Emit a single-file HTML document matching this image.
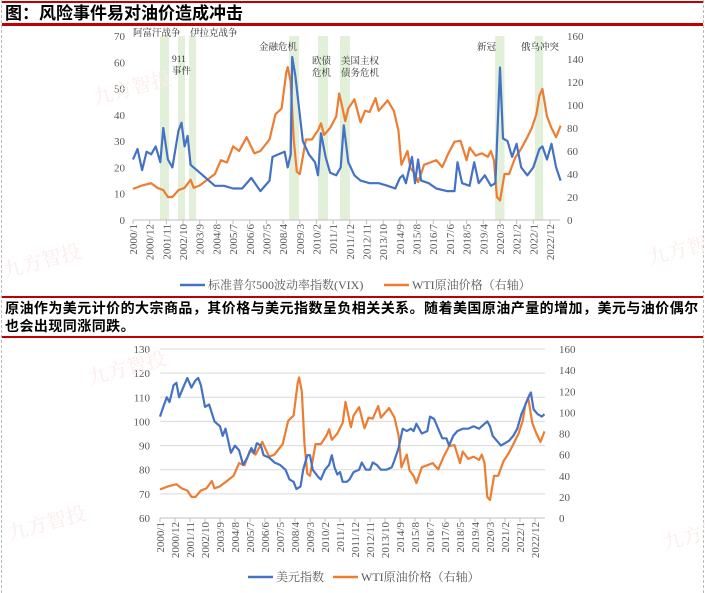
<!DOCTYPE html>
<html><head><meta charset="utf-8">
<style>
body{margin:0;background:#fff;}
#wrap{position:relative;width:705px;height:593px;overflow:hidden;font-family:"Liberation Serif","Noto Serif CJK SC",serif;}
.hd{position:absolute;left:5px;font-family:"Liberation Sans","Noto Sans CJK SC",sans-serif;font-weight:bold;color:#000;}
.rl{position:absolute;left:2px;right:2px;background:#c00000;}
</style></head>
<body>
<div id="wrap">
<div style="position:absolute;left:1px;top:0;bottom:0;border-left:1px dashed #bbb"></div>
<div style="position:absolute;right:1px;top:0;bottom:0;border-right:1px dashed #bbb"></div>
<div class="rl" style="top:1px;height:2px"></div>
<div class="hd" style="top:4px;font-size:17px;line-height:20px">图：风险事件易对油价造成冲击</div>
<div class="rl" style="top:23px;height:3px"></div>
<div class="rl" style="top:296px;height:2px"></div>
<div class="hd" style="top:299px;font-size:14px;line-height:18px;width:700px;letter-spacing:0.45px;white-space:nowrap">原油作为美元计价的大宗商品，其价格与美元指数呈负相关关系。随着美国原油产量的增加，美元与油价偶尔<br>也会出现同涨同跌。</div>
<div class="rl" style="top:336px;height:2px"></div>
<svg id="svg" width="705" height="593" style="position:absolute;left:0;top:0"></svg>
</div>
<script>
const tickLabels=[];for(let k=0;k<=25;k++){const m=11*k;tickLabels.push((2000+Math.floor(m/12))+'/'+(m%12+1));}
const vixMonths=[0,3,6,9,12,15,18,20,23,26,30,32,34,36,38,42,48,54,60,66,72,78,84,90,92,96,100,102,104,105,107,109,112,116,120,122,124,127,130,134,137,139,142,146,150,156,162,168,173,176,178,180,184,186,188,190,195,200,207,212,214,217,222,225,228,232,236,239,242,244,247,250,253,256,260,264,268,270,273,276,279,282];
const vixValues=[23,27,19,26,25,28,22,35,23,20,34,37,28,32,21,19,16,13,13,12,12,16,11,15,24,25,26,20,25,62,55,45,30,25,22,17,33,24,18,17,20,36,22,17,15,14,14,13,12,16,17,14,24,14,23,15,14,12,11,11,22,14,13,22,14,17,13,14,58,31,30,24,29,20,17,20,27,28,23,29,20,15];
const wtiMonths=[0,6,12,16,20,23,26,30,34,38,40,44,48,54,58,62,66,70,75,80,84,90,94,98,101,102,104,106,108,110,114,118,122,124,126,130,134,136,138,140,142,146,150,153,156,160,162,164,168,172,175,177,181,183,186,188,192,196,200,204,208,212,216,220,222,226,230,234,236,238,240,242,245,248,252,256,260,263,266,268,270,273,276,279,282];
const wtiValues=[27,30,32,28,26,20,20,26,28,35,28,30,34,40,52,50,64,60,72,58,60,70,92,97,128,133,120,70,42,40,70,70,78,84,74,80,90,110,98,86,97,105,85,95,94,106,95,98,104,95,78,48,60,45,40,33,48,50,52,46,58,68,69,52,63,56,58,55,60,52,20,17,40,40,54,62,72,80,92,108,114,90,80,72,82];
const dxyMonths=[0,3,5,7,10,12,14,17,20,23,26,28,30,33,36,40,44,46,48,50,52,55,58,61,64,67,69,71,74,76,80,84,88,92,95,98,100,103,105,108,110,112,116,118,121,124,126,128,130,132,134,137,139,142,146,148,151,154,156,159,162,166,170,172,175,178,181,184,186,188,192,196,198,201,204,207,210,212,215,218,222,226,230,234,238,240,242,244,247,250,253,256,259,262,265,268,271,272,274,277,280,282];
const dxyValues=[102,107,110,108,115,116,110,114,118,114,117,118,115,106,107,100,98,94,97,92,87,90,88,82,85,89,87,91,90,86,85,83,82,80,76,75,72,73,80,86,86,80,77,76,80,82,86,81,78,79,75,75,76,79,80,83,80,80,83,82,80,80,81,84,89,97,96,97,96,99,95,96,102,101,97,93,93,90,94,96,97,97,98,97,99,100,98,94,92,90,91,92,94,97,103,107,111,112,105,103,102,103];
const bandStarts=[17.8,29.7,36.9,103,122,136.5,238.8,265];
const bandEnds=[23.7,34.3,41.6,109.5,128.6,143,245,270.5];
const leftTicks1=[0,10,20,30,40,50,60,70];
const rightTicks=[0,20,40,60,80,100,120,140,160];
const leftTicks2=[60,70,80,90,100,110,120,130];
const eventLabels=[['阿富汗战争',133,36],['伊拉克战争',190,36],['911',172,62],['事件',172,74],['金融危机',259,50],['欧债',312,64],['危机',312,76],['美国主权',341,64],['债务危机',341,76],['新冠',477,50],['俄乌冲突',521,50]];

const NS='http://www.w3.org/2000/svg';const svg=document.getElementById('svg');
function mk(t,a,p){const e=document.createElementNS(NS,t);for(const k in a)e.setAttribute(k,a[k]);(p||svg).appendChild(e);return e;}
function txt(s,x,y,anchor,size,name,extra){const e=mk('text',Object.assign({x:x,y:y,'text-anchor':anchor,'font-size':size,fill:'#595959','font-family':'"Liberation Serif","Noto Serif CJK SC",serif'},extra||{}));e.textContent=s;


return e;}

function chart(c){
  const X=m=>c.x0+(c.x1-c.x0)*m/275;
  const YL=v=>c.yB-(c.yB-c.yT)*(v-c.lmin)/(c.lmax-c.lmin);
  const YR=v=>c.yB-(c.yB-c.yT)*v/160;
  const g=mk('g',{});
  
  
  if(c.bands){for(let i=0;i<bandStarts.length;i++){const r=mk('rect',{x:X(bandStarts[i]),y:c.yT,width:X(bandEnds[i])-X(bandStarts[i]),height:c.yB-c.yT,fill:'#e2efd9'},g);
    
    }}
  c.lt.forEach(v=>{const y=YL(v);if(c.grid&&v>c.lmin){const l=mk('line',{x1:c.x0,x2:c.x1+10,y1:y,y2:y,stroke:'#d9d9d9','stroke-width':1},g);
    
    }
    txt(String(v),c.lx,y+4,'end',11,'left-tick-label');});
  rightTicks.forEach(v=>txt(String(v),c.rx,YR(v)+4,'start',11,'right-tick-label'));
  const ax=mk('line',{x1:c.x0,x2:c.x1+10,y1:c.yB,y2:c.yB,stroke:'#bfbfbf'},g);
  
  
  tickLabels.forEach((s,k)=>{const x=X(11*k);mk('line',{x1:x,x2:x,y1:c.yB,y2:c.yB+4,stroke:'#bfbfbf'},g);
    txt(s,x+4,c.yB+4,'end',11,'x-tick-label',{transform:'rotate(-90 '+(x+4)+' '+(c.yB+4)+')'});});
  const path=(ms,vs,Y,col,nm)=>{const d=ms.map((m,i)=>(i?'L':'M')+X(m).toFixed(1)+','+Y(vs[i]).toFixed(1)).join('');
    const p=mk('path',{d:d,fill:'none',stroke:col,'stroke-width':2.2,'stroke-linejoin':'round'},g);
    
    };
  path(wtiMonths,wtiValues,YR,'#ed7d31','wti-line');
  path(c.bm,c.bv,YL,'#4472c4',c.bname);
  const l1=mk('line',{x1:c.lg[0],x2:c.lg[0]+25,y1:c.lgy,y2:c.lgy,stroke:'#4472c4','stroke-width':2.5},g);
  
  
  txt(c.lbl,c.lg[0]+28,c.lgy+4,'start',12,'legend-entry-blue');
  const l2=mk('line',{x1:c.lg[1],x2:c.lg[1]+25,y1:c.lgy,y2:c.lgy,stroke:'#ed7d31','stroke-width':2.5},g);
  
  
  txt('WTI原油价格（右轴）',c.lg[1]+28,c.lgy+4,'start',12,'legend-entry-orange');
}
chart({name:'vix-wti-chart',x0:133,x1:550,yT:36,yB:220,lmin:0,lmax:70,lt:leftTicks1,lx:125,rx:567,bands:true,grid:false,bm:vixMonths,bv:vixValues,bname:'vix-line',lg:[180,384],lgy:285,lbl:'标准普尔500波动率指数(VIX)'});
eventLabels.forEach(e=>txt(e[0],e[1],e[2],'start',9.5,'event-label',{fill:'#333'}));
chart({name:'dxy-wti-chart',x0:160,x1:535,yT:349,yB:518,lmin:60,lmax:130,lt:leftTicks2,lx:150,rx:559,bands:false,grid:true,bm:dxyMonths,bv:dxyValues,bname:'dxy-line',lg:[248,333],lgy:577,lbl:'美元指数'});
[[95,105],[5,278],[650,265],[90,385],[10,540],[665,550]].forEach(p=>txt('九方智投',p[0],p[1],'start',20,'watermark',{fill:'#fcecec',transform:'rotate(-15 '+p[0]+' '+p[1]+')'}));
</script>
</body></html>
